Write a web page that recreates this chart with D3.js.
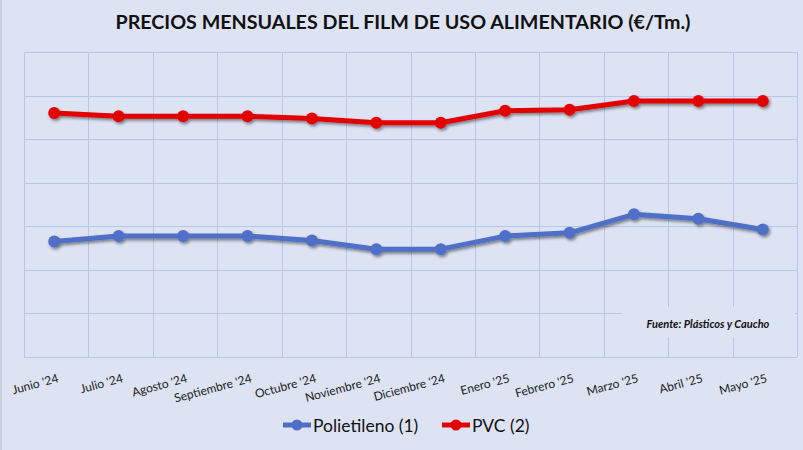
<!DOCTYPE html>
<html>
<head>
<meta charset="utf-8">
<script src="https://cdn.jsdelivr.net/npm/d3@7"></script>
<style>
  body { margin: 0; background: #dde3f3; }
  svg { display: block; font-family: Lato, "Open Sans", sans-serif; }
</style>
</head>
<body>
<div id="chart"></div>
<script>
// Months shown on the x axis
const months = ["Junio '24", "Julio '24", "Agosto '24", "Septiembre '24", "Octubre '24", "Noviembre '24",
                "Diciembre '24", "Enero '25", "Febrero '25", "Marzo '25", "Abril '25", "Mayo '25"];
// €/Tm (axis labels are hidden in the original)
const polietileno = [1530, 1555, 1555, 1555, 1535, 1495, 1495, 1555, 1570, 1655, 1635, 1585];
const pvc = [2120, 2105, 2105, 2105, 2095, 2075, 2075, 2130, 2135, 2175, 2175, 2175];
const yTicks = [1000, 1200, 1400, 1600, 1800, 2000, 2200, 2400];

const series = [
  { name: "Polietileno (1)", values: polietileno, color: "#4f6fc6" },
  { name: "PVC (2)", values: pvc, color: "#e30000" }
];

const W = 803, H = 450;
const margin = { top: 52, right: 6, bottom: 93, left: 24 };

const svg = d3.select("#chart").append("svg")
  .attr("width", W).attr("height", H);

const defs = svg.append("defs");
defs.append("filter").attr("id", "shadow")
  .attr("x", "-50%").attr("y", "-50%").attr("width", "200%").attr("height", "200%")
  .append("feDropShadow")
  .attr("dx", 1.5).attr("dy", 2).attr("stdDeviation", 1.5)
  .attr("flood-color", "#000").attr("flood-opacity", 0.45);

svg.append("rect").attr("width", W).attr("height", H).attr("fill", "#dde3f3");
svg.append("line").attr("x1", 0.5).attr("x2", 0.5).attr("y1", 0).attr("y2", H)
  .attr("stroke", "#c9cfdc").attr("stroke-width", 3);

const x = d3.scaleBand(months, [margin.left, W - margin.right]);
const y = d3.scaleLinear([1000, 2400], [H - margin.bottom, margin.top]);
const cx = d => x(d) + x.bandwidth() / 2 - 2;

// Title
svg.append("text")
  .attr("x", 403).attr("y", 29)
  .attr("text-anchor", "middle")
  .attr("font-size", 18.5).attr("font-weight", "bold")
  .attr("fill", "#111")
  .attr("textLength", 575).attr("lengthAdjust", "spacingAndGlyphs")
  .text("PRECIOS MENSUALES DEL FILM DE USO ALIMENTARIO (€/Tm.)");

// Grid
const grid = svg.append("g").attr("stroke", "#b7c7ea").attr("stroke-width", 1);
grid.selectAll(".h").data(yTicks).join("line")
  .attr("x1", margin.left).attr("x2", W - margin.right)
  .attr("y1", d => Math.round(y(d)) + 0.5).attr("y2", d => Math.round(y(d)) + 0.5);
grid.selectAll(".v").data(months.concat([null])).join("line")
  .attr("x1", (d, i) => Math.round(margin.left + i * x.step()) + 0.5)
  .attr("x2", (d, i) => Math.round(margin.left + i * x.step()) + 0.5)
  .attr("y1", margin.top).attr("y2", H - margin.bottom);

// Source box over the grid
svg.append("rect")
  .attr("x", 622).attr("y", 307).attr("width", 173).attr("height", 30)
  .attr("fill", "#dde3f3");
svg.append("text")
  .attr("x", 708).attr("y", 328)
  .attr("text-anchor", "middle")
  .attr("font-size", 11).attr("font-weight", "bold").attr("font-style", "italic")
  .attr("fill", "#111")
  .text("Fuente: Plásticos y Caucho");

// X labels
svg.append("g").selectAll("text").data(months).join("text")
  .attr("transform", d => `translate(${cx(d) + 5},${H - margin.bottom + 25}) rotate(-15)`)
  .attr("text-anchor", "end")
  .attr("font-size", 12)
  .attr("fill", "#222")
  .text(d => d);

// Lines and markers
const line = d3.line().x((v, i) => cx(months[i])).y(v => y(v));
series.forEach(s => {
  const g = svg.append("g").attr("filter", "url(#shadow)");
  g.append("path")
    .attr("d", line(s.values))
    .attr("fill", "none")
    .attr("stroke", s.color)
    .attr("stroke-width", 5)
    .attr("stroke-linejoin", "round");
  g.selectAll("circle").data(s.values).join("circle")
    .attr("cx", (v, i) => cx(months[i]))
    .attr("cy", v => y(v))
    .attr("r", 6)
    .attr("fill", s.color);
});

// Legend
const legendX = [283, 442];
const legend = svg.append("g").selectAll("g").data(series).join("g")
  .attr("transform", (d, i) => `translate(${legendX[i]},425)`);
legend.append("line")
  .attr("x1", 0).attr("x2", 28)
  .attr("stroke", d => d.color).attr("stroke-width", 5);
legend.append("circle")
  .attr("cx", 14).attr("r", 5.5).attr("fill", d => d.color);
legend.append("text")
  .attr("x", 30).attr("y", 6.5)
  .attr("font-size", 17.5)
  .attr("fill", "#111")
  .text(d => d.name);
</script>
</body>
</html>
